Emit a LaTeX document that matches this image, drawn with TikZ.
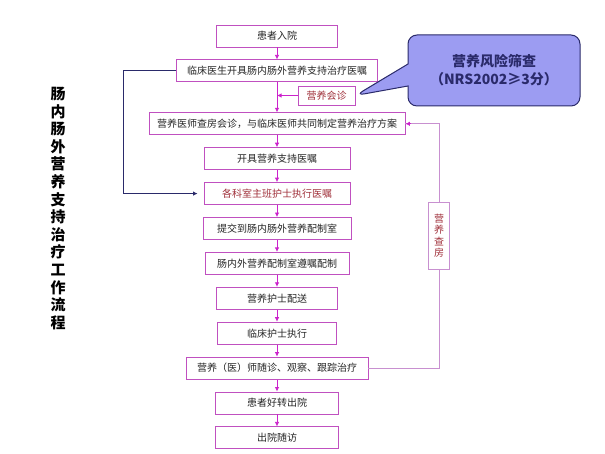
\documentclass[tikz,border=0pt]{standalone}
\usepackage{fontspec}
\newfontfamily\cjk{Noto Sans CJK SC}
\usetikzlibrary{arrows.meta,positioning,shapes.callouts}
\definecolor{borda}{HTML}{C050C0}
\definecolor{bordaC}{HTML}{C890D0}
\definecolor{vermelho}{HTML}{A0303A}
\definecolor{setacor}{HTML}{CC22CC}
\definecolor{azulE}{HTML}{2A2A6A}
\definecolor{lilas}{HTML}{9C9CF2}
\tikzset{
  caixa/.style={rectangle,draw=borda,line width=0.9pt,fill=white,minimum height=22pt,inner sep=2pt,font=\cjk\fontsize{10}{12}\selectfont,text=black!85},
  caixaR/.style={caixa,text=vermelho},
  seta/.style={-{Latex[length=4.5pt,width=4.5pt]},line width=0.8pt,setacor},
  setaA/.style={-{Latex[length=4.5pt,width=4.5pt]},line width=0.8pt,azulE},
  linhaR/.style={line width=0.9pt,bordaC},
  balao/.style={rectangle callout,rounded corners=9pt,draw=azulE,line width=1pt,fill=lilas,minimum width=172pt,minimum height=71pt,callout pointer width=22pt,align=center,text=azulE,font=\cjk\bfseries\fontsize{14}{18}\selectfont},
  titulo/.style={align=center,font=\cjk\bfseries\fontsize{15}{17.6}\selectfont},
}

\begin{document}
\begin{tikzpicture}[node distance=12pt]
\useasboundingbox (0,0) rectangle (605pt,454pt);
% coluna principal
\node[caixa,minimum width=121pt] (b1) at (277pt,418pt) {患者入院};
\node[caixa,minimum width=201pt,below=of b1] (b2) {临床医生开具肠内肠外营养支持治疗医嘱};
\node[caixa,minimum width=256pt,below=30pt of b2] (b4) {营养医师查房会诊，与临床医师共同制定营养治疗方案};
\node[caixa,minimum width=146pt,below=of b4] (b5) {开具营养支持医嘱};
\node[caixaR,minimum width=146pt,below=of b5] (b6) {各科室主班护士执行医嘱};
\node[caixa,minimum width=148pt,below=of b6] (b7) {提交到肠内肠外营养配制室};
\node[caixa,minimum width=144pt,below=of b7] (b8) {肠内外营养配制室遵嘱配制};
\node[caixa,minimum width=121pt,below=of b8] (b9) {营养护士配送};
\node[caixa,minimum width=119pt,below=of b9] (b10) {临床护士执行};
\node[caixa,minimum width=182pt,below=of b10] (b11) {营养（医）师随诊、观察、跟踪治疗};
\node[caixa,minimum width=123pt,below=of b11] (b12) {患者好转出院};
\node[caixa,minimum width=123pt,below=of b12] (b13) {出院随访};
\draw[seta] (b1) -- (b2);
\draw[seta] (b2) -- (b4);
\draw[seta] (b4) -- (b5);
\draw[seta] (b5) -- (b6);
\draw[seta] (b6) -- (b7);
\draw[seta] (b7) -- (b8);
\draw[seta] (b8) -- (b9);
\draw[seta] (b9) -- (b10);
\draw[seta] (b10) -- (b11);
\draw[seta] (b11) -- (b12);
\draw[seta] (b12) -- (b13);
% consulta e triagem
\node[caixaR,minimum width=57pt,minimum height=19pt] (hz) at (326.5pt,358.5pt) {营养会诊};
\draw[seta] (hz.west) -- (hz.west -| b2.south);
\node[balao,callout absolute pointer={(hz.east)}] (nrs) at (494pt,383.5pt) {营养风险筛查\\（NRS2002≥3分）};
% laço à esquerda
\coordinate (lv) at (123pt,0);
\draw[setaA] (b2.west) -- (b2.west -| lv) |- ([xshift=-6pt]b6.west);
% laço à direita
\node[caixaR,draw=bordaC,minimum width=21pt,minimum height=67pt,inner sep=1pt,align=center,font=\cjk\fontsize{10}{11.5}\selectfont] (cf) at (439pt,218.5pt) {营\\养\\查\\房};
\draw[linhaR] (b11.east) -| (cf);
\draw[linhaR] (cf) |- (b4.east);
\draw[seta] ([xshift=6pt]b4.east) -- (b4.east);
% título vertical
\node[titulo] (tit) at (58pt,245.5pt) {肠\\内\\肠\\外\\营\\养\\支\\持\\治\\疗\\工\\作\\流\\程};
\end{tikzpicture}
\end{document}
